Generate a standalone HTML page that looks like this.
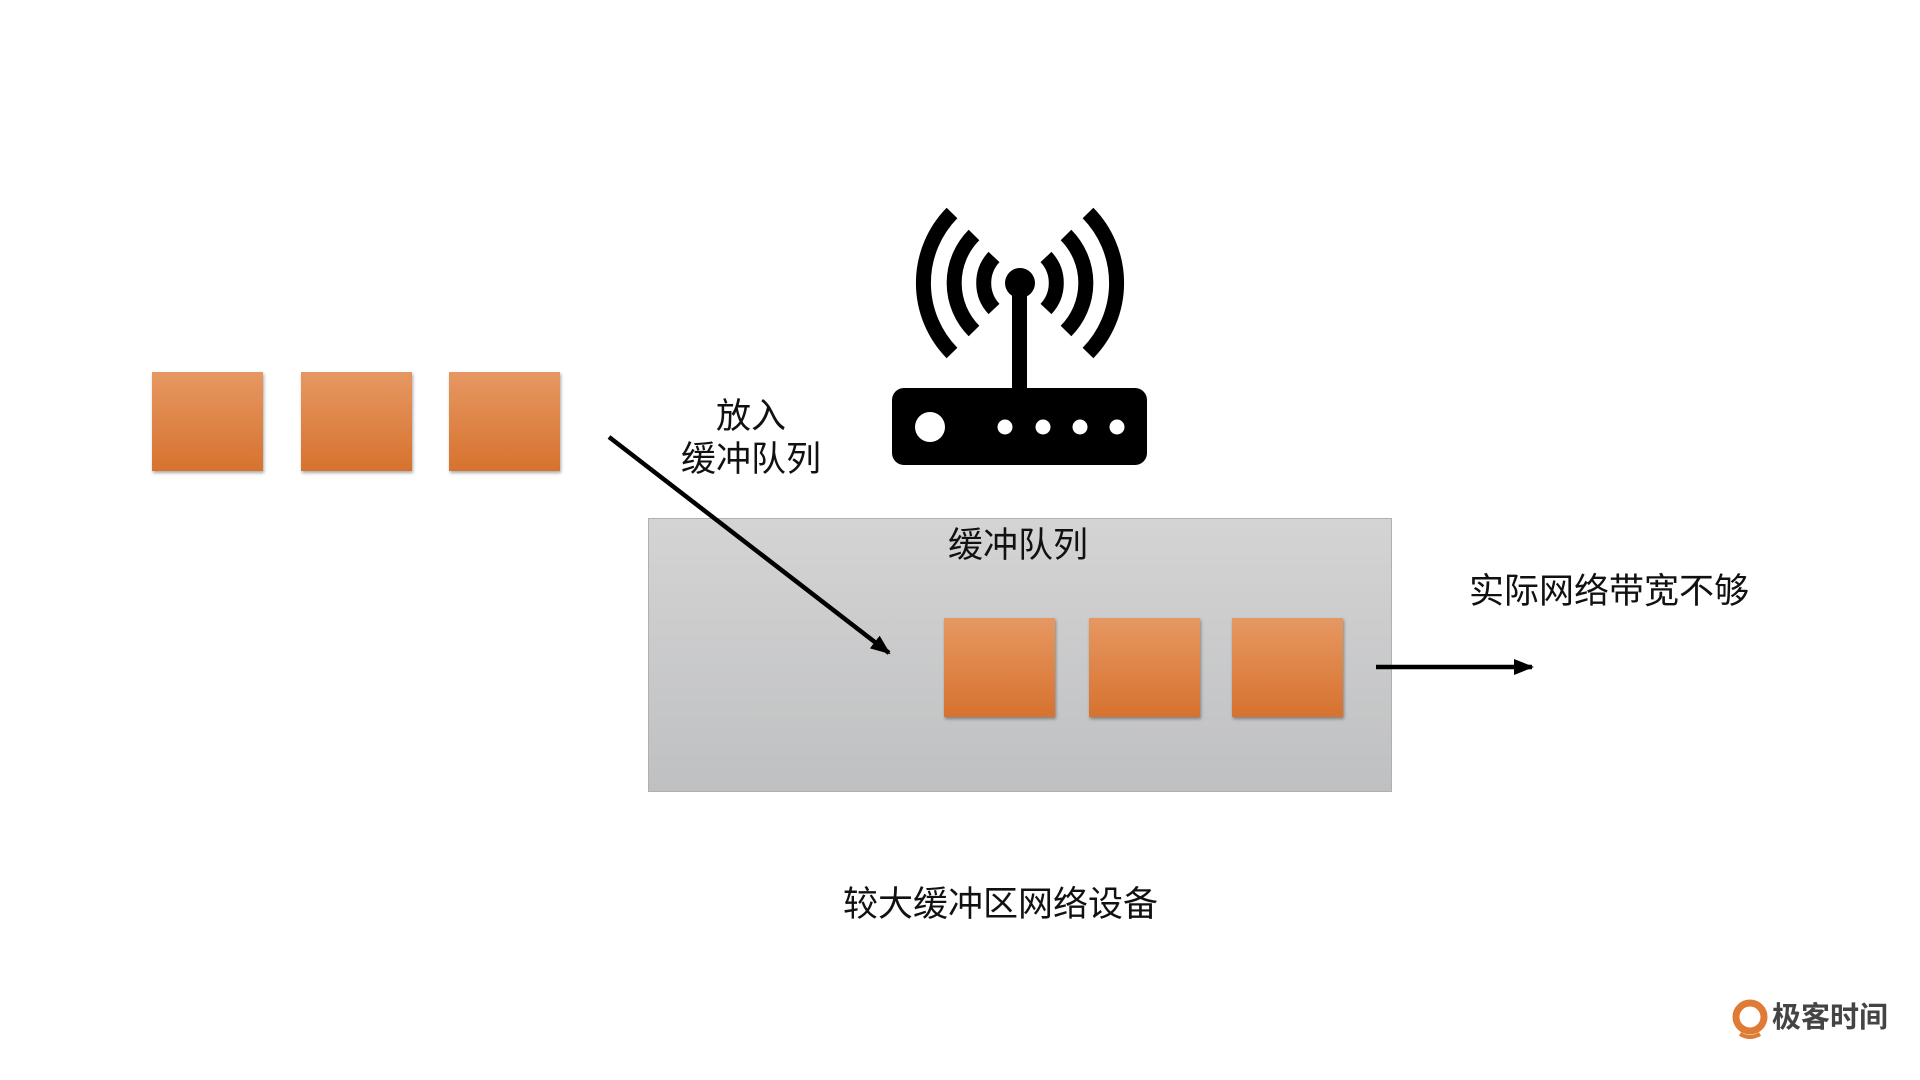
<!DOCTYPE html>
<html><head><meta charset="utf-8"><style>
body{margin:0;width:1920px;height:1080px;background:#fff;position:relative;overflow:hidden;font-family:"Liberation Sans","Noto Sans CJK SC",sans-serif;}
.sq{position:absolute;width:111px;height:99px;background:linear-gradient(#e69862,#d7722f);box-shadow:1px 2px 3px rgba(0,0,0,.35);}
.t{position:absolute;font-size:35px;color:#111;white-space:nowrap;line-height:1;}
</style></head><body>
<div class="sq" style="left:152px;top:372px"></div>
<div class="sq" style="left:301px;top:372px"></div>
<div class="sq" style="left:449px;top:372px"></div>
<div style="position:absolute;left:648px;top:518px;width:742px;height:272px;border:1px solid #b0b0b0;background:linear-gradient(#d4d4d5,#bfc0c1);"></div>
<div class="sq" style="left:944px;top:618px"></div>
<div class="sq" style="left:1089px;top:618px"></div>
<div class="sq" style="left:1232px;top:618px"></div>
<div class="t" style="left:681px;top:399px;width:140px;text-align:center">放入</div>
<div class="t" style="left:681px;top:442px;width:140px;text-align:center">缓冲队列</div>
<div class="t" style="left:948px;top:528px;width:140px;text-align:center">缓冲队列</div>
<div class="t" style="left:1469px;top:574px">实际网络带宽不够</div>
<div class="t" style="left:843px;top:887px">较大缓冲区网络设备</div>
<svg width="1920" height="1080" style="position:absolute;left:0;top:0">
<defs><marker id="b" markerWidth="20" markerHeight="16" refX="18" refY="8" orient="auto" markerUnits="userSpaceOnUse"><path d="M0,0 L20,8 L0,16z" fill="#000"/></marker></defs>
<line x1="609" y1="437" x2="889" y2="653" stroke="#000" stroke-width="4.5" marker-end="url(#b)"/>
<line x1="1376" y1="667" x2="1532" y2="667" stroke="#000" stroke-width="4.5" marker-end="url(#b)"/>
<g fill="none" stroke="#000" stroke-width="15">
<path d="M994,257 A38,38 0 0 0 994,309"/><path d="M1046,257 A38,38 0 0 1 1046,309"/>
<path d="M974,235 A68,68 0 0 0 974,331"/><path d="M1066,235 A68,68 0 0 1 1066,331"/>
<path d="M952,213 A100,100 0 0 0 952,353"/><path d="M1088,213 A100,100 0 0 1 1088,353"/>
</g>
<circle cx="1020" cy="283" r="15" fill="#000"/>
<rect x="1012" y="283" width="15" height="110" fill="#000"/>
<rect x="892" y="388" width="255" height="77" rx="12" fill="#000"/>
<circle cx="930" cy="427" r="15" fill="#fff"/>
<circle cx="1005" cy="427" r="7.5" fill="#fff"/><circle cx="1043" cy="427" r="7.5" fill="#fff"/>
<circle cx="1080" cy="427" r="7.5" fill="#fff"/><circle cx="1117" cy="427" r="7.5" fill="#fff"/>
<circle cx="1750" cy="1017" r="14" fill="none" stroke="#e07b35" stroke-width="7"/>
<path d="M1740,1034 Q1750,1040 1760,1034" stroke="#e07b35" stroke-width="4" fill="none"/>
</svg>
<div class="t" style="left:1772px;top:1004px;font-size:29px;color:#444;font-weight:bold">极客时间</div>
</body></html>
